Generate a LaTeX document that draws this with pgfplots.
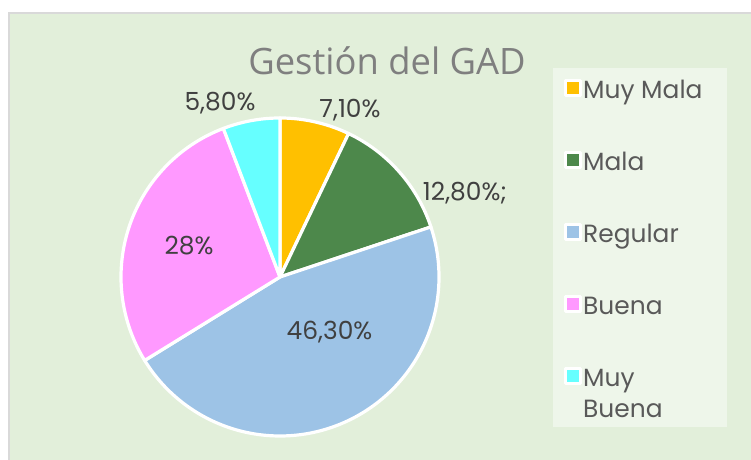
\documentclass[border=0pt]{standalone}
\usepackage{pgfplots}
\pgfplotsset{compat=1.18}
\usepackage{fontspec}
\setmainfont{Poppins}
\newfontfamily\titlefont{Open Sans}
\definecolor{cMM}{HTML}{FFC000}
\definecolor{cM}{HTML}{4D884B}
\definecolor{cR}{HTML}{9DC3E6}
\definecolor{cB}{HTML}{FF99FF}
\definecolor{cMB}{HTML}{66FFFF}
\definecolor{bggreen}{HTML}{E2EFDA}
\definecolor{legbg}{HTML}{EEF6EA}
\definecolor{bordergray}{HTML}{D9D9D9}
\definecolor{titlegray}{HTML}{7F7F7F}
\definecolor{labelgray}{HTML}{404040}
\definecolor{leggray}{HTML}{595959}
% percentages (clockwise from 12 o'clock)
\def\pA{7.1}\def\pB{12.8}\def\pC{46.3}\def\pD{28}\def\pE{5.8}
\pgfmathsetmacro{\aA}{90}
\pgfmathsetmacro{\aB}{\aA-3.6*\pA}
\pgfmathsetmacro{\aC}{\aB-3.6*\pB}
\pgfmathsetmacro{\aD}{\aC-3.6*\pC}
\pgfmathsetmacro{\aE}{\aD-3.6*\pD}
\pgfmathsetmacro{\aF}{\aE-3.6*\pE}
\begin{document}
\begin{tikzpicture}[x=1bp,y=1bp]
\useasboundingbox (0,0) rectangle (751,460);
\fill[white] (0,0) rectangle (751,460);
\fill[bggreen] (9,0) rectangle (751,447);
\draw[bordergray, line width=1.5bp] (9,0) -- (9,447) -- (751,447);
\fill[legbg] (553,33) rectangle (727,392);
\node[anchor=base, text=titlegray, font=\titlefont\fontsize{36.5}{40}\selectfont, inner sep=0] at (387,385) {Gestión del GAD};
\begin{axis}[at={(121bp,24bp)}, anchor=south west, scale only axis,
  width=318bp, height=318bp, xmin=-1, xmax=1, ymin=-1, ymax=1,
  hide axis, clip=false,
  legend cell align=left,
  legend image code/.code={\draw[draw=white, line width=3bp, fill] (0bp,-2.5bp) rectangle (15bp,12.5bp);},
  legend style={at={(1.393,1.1226)}, anchor=north west, draw=none, fill=none,
    inner sep=0pt, row sep=44.5bp, text=leggray,
    font=\fontsize{25}{31}\selectfont,
    nodes={inner sep=1bp, text height=18bp, text depth=7bp}},
]
\addplot[fill=cMM, draw=white, line width=3.2bp, line join=round, domain=\aB:\aA, samples=40] ({cos(x)},{sin(x)}) -- (axis cs:0,0) -- cycle;
\addplot[fill=cM, draw=white, line width=3.2bp, line join=round, domain=\aC:\aB, samples=60] ({cos(x)},{sin(x)}) -- (axis cs:0,0) -- cycle;
\addplot[fill=cR, draw=white, line width=3.2bp, line join=round, domain=\aD:\aC, samples=150] ({cos(x)},{sin(x)}) -- (axis cs:0,0) -- cycle;
\addplot[fill=cB, draw=white, line width=3.2bp, line join=round, domain=\aE:\aD, samples=100] ({cos(x)},{sin(x)}) -- (axis cs:0,0) -- cycle;
\addplot[fill=cMB, draw=white, line width=3.2bp, line join=round, domain=\aF:\aE, samples=30] ({cos(x)},{sin(x)}) -- (axis cs:0,0) -- cycle;
\legend{Muy Mala, Mala, Regular, Buena, {\vtop{\hbox{Muy}\hbox{Buena}}}}
\end{axis}
\begin{scope}[every node/.style={text=labelgray, font=\fontsize{25}{30}\selectfont, inner sep=0}]
\node at (220,357) {5,80\%};
\node at (350,349.5) {7,10\%};
\node at (465,267) {12,80\%;};
\node at (189,214) {28\%};
\node at (329.5,128) {46,30\%};
\end{scope}
\end{tikzpicture}
\end{document}
